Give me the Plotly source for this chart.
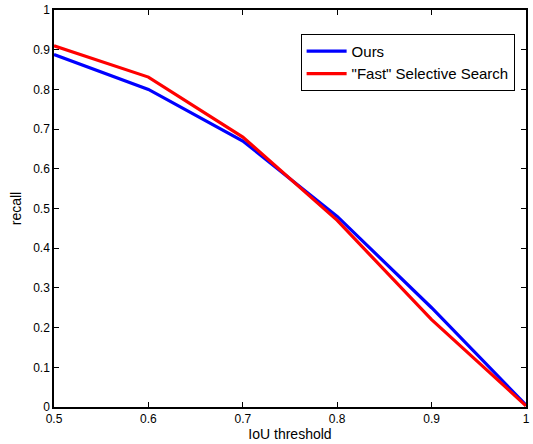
import plotly.graph_objects as go

iou = [0.5, 0.6, 0.7, 0.8, 0.9, 1.0]
recall_ours = [0.888, 0.800, 0.670, 0.480, 0.250, 0.005]
recall_fast_ss = [0.910, 0.831, 0.680, 0.470, 0.220, 0.003]
yticks = [0, 0.1, 0.2, 0.3, 0.4, 0.5, 0.6, 0.7, 0.8, 0.9, 1]
ytick_labels = ["0", "0.1", "0.2", "0.3", "0.4", "0.5", "0.6", "0.7", "0.8", "0.9", "1"]
xticks = [0.5, 0.6, 0.7, 0.8, 0.9, 1]
xtick_labels = ["0.5", "0.6", "0.7", "0.8", "0.9", "1"]

FONT = "Liberation Sans, Arial, Helvetica, sans-serif"

fig = go.Figure()
fig.add_trace(go.Scatter(x=iou, y=recall_ours, mode="lines", name="Ours",
                         line=dict(color="#0000ff", width=3.2)))
fig.add_trace(go.Scatter(x=iou, y=recall_fast_ss, mode="lines", name='"Fast" Selective Search',
                         line=dict(color="#ff0000", width=3.2)))

axis_common = dict(showgrid=False, zeroline=False, showline=True, linecolor="black",
                   linewidth=1.5, mirror="ticks", ticks="inside", ticklen=5,
                   tickcolor="black", tickwidth=1,
                   tickfont=dict(family=FONT, size=12, color="black"))

fig.update_layout(
    width=533, height=444,
    margin=dict(l=54, r=3, t=7, b=37),
    paper_bgcolor="white", plot_bgcolor="white",
    font=dict(family=FONT, size=12, color="black"),
    xaxis=dict(range=[0.5, 1], tickvals=xticks, ticktext=xtick_labels,
               title=dict(text="IoU threshold", standoff=1, font=dict(size=14)), **axis_common),
    yaxis=dict(range=[0, 1], tickvals=yticks, ticktext=ytick_labels,
               title=dict(text="recall", standoff=8, font=dict(size=14)), **axis_common),
    legend=dict(x=0.5225, y=0.94, xanchor="left", yanchor="top",
                bgcolor="white", bordercolor="black", borderwidth=1,
                font=dict(size=15, family=FONT), tracegroupgap=0, itemwidth=40),
    showlegend=True,
)

fig.write_html("out.html", config={"displayModeBar": False})

with open("out.html", "r", encoding="utf-8") as f:
    html = f.read()
html = html.replace("<head>", "<head><style>html,body{margin:0;padding:0;overflow:hidden;}</style>", 1)
with open("out.html", "w", encoding="utf-8") as f:
    f.write(html)
